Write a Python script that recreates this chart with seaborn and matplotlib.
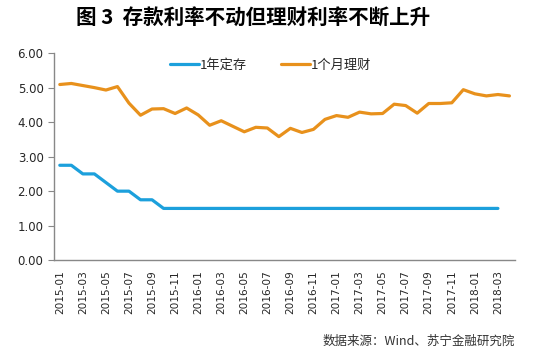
import matplotlib
matplotlib.use("Agg")
import matplotlib.pyplot as plt
import seaborn as sns
import pandas as pd
import numpy as np

# monthly, 2015-01 .. 2018-04
months = [str(p) for p in pd.period_range("2015-01", "2018-04", freq="M")]

deposit_1y = [2.75, 2.75, 2.50, 2.50, 2.25, 2.00, 2.00, 1.75, 1.75, 1.50,
              1.50, 1.50, 1.50, 1.50, 1.50, 1.50, 1.50, 1.50, 1.50, 1.50,
              1.50, 1.50, 1.50, 1.50, 1.50, 1.50, 1.50, 1.50, 1.50, 1.50,
              1.50, 1.50, 1.50, 1.50, 1.50, 1.50, 1.50, 1.50, 1.50]

wealth_1m = [5.09, 5.12, 5.06, 5.00, 4.93, 5.03, 4.55, 4.20, 4.38, 4.39,
             4.25, 4.41, 4.21, 3.91, 4.04, 3.88, 3.72, 3.85, 3.83, 3.58,
             3.82, 3.70, 3.79, 4.08, 4.19, 4.14, 4.29, 4.24, 4.25, 4.52,
             4.48, 4.26, 4.54, 4.54, 4.56, 4.94, 4.82, 4.76, 4.80, 4.76]

sns.set_style("white")
plt.rcParams['font.family'] = ['Noto Sans CJK SC', 'DejaVu Sans']

df_dep = pd.DataFrame({"x": np.arange(len(deposit_1y)), "y": deposit_1y})
df_wm = pd.DataFrame({"x": np.arange(len(wealth_1m)), "y": wealth_1m})

fig = plt.figure(figsize=(5.35, 3.54), dpi=100)
ax = fig.add_axes([0.101, 0.265, 0.862, 0.585])

sns.lineplot(data=df_dep, x="x", y="y", color="#1ca0dc", linewidth=2.3,
             label="1年定存", ax=ax)
sns.lineplot(data=df_wm, x="x", y="y", color="#e8911c", linewidth=2.3,
             label="1个月理财", ax=ax)

ax.set_xlim(-0.5, len(months) - 0.5)
ax.set_ylim(0, 6)
ax.set_yticks(np.arange(0, 6.01, 1))
ax.set_yticklabels([f"{v:.2f}" for v in np.arange(0, 6.01, 1)],
                   fontsize=8.5, family="DejaVu Sans")

idx = list(range(0, len(months), 2))
ax.set_xticks(idx)
ax.set_xticklabels([months[i] for i in idx], rotation=90, fontsize=7.6,
                   family="DejaVu Sans")
ax.set_xticks(np.arange(-0.5, len(months), 2), minor=True)
ax.tick_params(axis="x", which="major", length=0, pad=7)
ax.tick_params(axis="x", which="minor", length=4, color="#888888", direction="out")
ax.tick_params(axis="y", length=4, color="#888888", direction="out", left=True)

ax.set_xlabel("")
ax.set_ylabel("")
for s in ["top", "right"]:
    ax.spines[s].set_visible(False)
for s in ["left", "bottom"]:
    ax.spines[s].set_color("#888888")
    ax.spines[s].set_linewidth(1)

ax.legend(loc="upper center", bbox_to_anchor=(0.47, 1.03), ncol=2, frameon=False,
          fontsize=9.5, handlelength=2.2, handletextpad=0.05, columnspacing=2.6)

fig.text(0.473, 0.95, "图 3  存款利率不动但理财利率不断上升", ha="center", va="center",
         fontsize=14.8, fontweight="bold", color="black")
fig.text(0.962, 0.035, "数据来源：Wind、苏宁金融研究院", ha="right", va="center",
         fontsize=9, style="italic", color="#333333")

fig.savefig("out.png", dpi=100)
